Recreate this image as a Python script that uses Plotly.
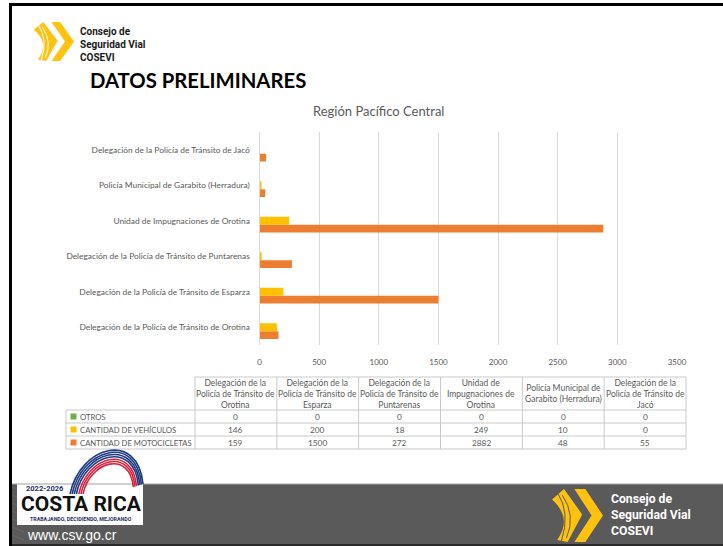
import numpy as np
import plotly.graph_objects as go

W, H = 723, 546

# ---- data -------------------------------------------------------------
categorias = [
    "Delegación de la Policía de Tránsito de Orotina",
    "Delegación de la Policía de Tránsito de Esparza",
    "Delegación de la Policía de Tránsito de Puntarenas",
    "Unidad de Impugnaciones de Orotina",
    "Policía Municipal de Garabito (Herradura)",
    "Delegación de la Policía de Tránsito de Jacó",
]
encabezados = [
    "Delegación de la<br>Policía de Tránsito de<br>Orotina",
    "Delegación de la<br>Policía de Tránsito de<br>Esparza",
    "Delegación de la<br>Policía de Tránsito de<br>Puntarenas",
    "Unidad de<br>Impugnaciones de<br>Orotina",
    "Policía Municipal de<br>Garabito (Herradura)",
    "Delegación de la<br>Policía de Tránsito de<br>Jacó",
]
otros = [0, 0, 0, 0, 0, 0]
vehiculos = [146, 200, 18, 249, 10, 0]
motocicletas = [159, 1500, 272, 2882, 48, 55]
series_nombres = ["OTROS", "CANTIDAD DE VEHÍCULOS", "CANTIDAD DE MOTOCICLETAS"]
series_valores = [otros, vehiculos, motocicletas]
series_colores = ["#70AD47", "#FFC000", "#ED7D31"]
ticks_x = [0, 500, 1000, 1500, 2000, 2500, 3000, 3500]

GRIS = "#595959"
FUENTE = "Lato"


def fx(x):
    return x / W


def fy(y):
    return 1 - y / H


shapes = []
annotations = []


def linea(x0, y0, x1, y1, color="#c9c9c9", ancho=1):
    shapes.append(dict(type="line", xref="paper", yref="paper",
                       x0=fx(x0), y0=fy(y0), x1=fx(x1), y1=fy(y1),
                       line=dict(color=color, width=ancho), layer="above"))


def rect(x0, y0, x1, y1, color, layer="above"):
    shapes.append(dict(type="rect", xref="paper", yref="paper",
                       x0=fx(x0), y0=fy(y0), x1=fx(x1), y1=fy(y1),
                       fillcolor=color, line=dict(width=0), layer=layer))


def texto(x, y, t, size, color=GRIS, family=FUENTE, xanchor="center",
          bold=False, yanchor="middle", align="center"):
    if bold:
        t = "<b>" + t + "</b>"
    annotations.append(dict(xref="paper", yref="paper", x=fx(x), y=fy(y),
                            text=t, showarrow=False, xanchor=xanchor,
                            yanchor=yanchor, align=align,
                            font=dict(size=size, color=color, family=family)))


def ruta(puntos, cerrar=True):
    # puntos: list of ("M"/"L"/"Q"/"C", [(x, y), ...]) in pixels
    partes = []
    for cmd, pts in puntos:
        partes.append(cmd + " " + " ".join(f"{fx(px):.5f},{fy(py):.5f}" for px, py in pts))
    s = " ".join(partes)
    return s + (" Z" if cerrar else "")


def logo_cosevi(x0, y0, w, h, franja="#ffffff"):
    def t(u, v):
        return (x0 + u * w, y0 + v * h)
    amarillo = "#FFC20E"
    izq = ruta([("M", [t(0.02, 0.20)]), ("L", [t(0.25, 0.0)]), ("L", [t(0.60, 0.48)]),
                ("L", [t(0.32, 1.0)]), ("L", [t(0.12, 0.96)]),
                ("Q", [t(0.42, 0.55), t(0.02, 0.20)])])
    der = ruta([("M", [t(0.45, 0.0)]), ("L", [t(0.66, 0.0)]), ("L", [t(1.0, 0.5)]),
                ("L", [t(0.66, 1.0)]), ("L", [t(0.45, 1.0)]), ("L", [t(0.78, 0.5)])])
    for p in (izq, der):
        shapes.append(dict(type="path", xref="paper", yref="paper", path=p,
                           fillcolor=amarillo, line=dict(width=0), layer="above"))
    for a, b, c in [((0.12, 0.06), (0.38, 0.45), (0.20, 0.98)),
                    ((0.22, 0.12), (0.48, 0.50), (0.30, 0.92))]:
        p = ruta([("M", [t(*a)]), ("Q", [t(*b), t(*c)])], cerrar=False)
        shapes.append(dict(type="path", xref="paper", yref="paper", path=p,
                           line=dict(color=franja, width=1), layer="above"))


# ---- slide frame ------------------------------------------------------
linea(10, 4.5, 723, 4.5, color="#000000", ancho=3)

# top-left brand
logo_cosevi(33, 22, 41, 39)
texto(78, 44, "Consejo de<br>Seguridad Vial<br>COSEVI", 10, color="#1a1a1a",
      family="Roboto", xanchor="left", bold=True, align="left")
texto(88, 80, "DATOS PRELIMINARES", 20.3, color="#000000", xanchor="left", bold=True)

# chart title
texto(378, 111, "Región Pacífico Central", 13)

# ---- data table below the chart --------------------------------------
col_x = [195 + i * (686 - 195) / 6 for i in range(7)]
fila_y = [410, 423, 436, 449]
linea(col_x[0], 377, col_x[-1], 377)
for y in fila_y:
    linea(66, y, col_x[-1], y)
for x in col_x:
    linea(x, 377, x, fila_y[-1])
linea(66, fila_y[0], 66, fila_y[-1])

for i, enc in enumerate(encabezados):
    cx = (col_x[i] + col_x[i + 1]) / 2
    texto(cx, 393.5, enc, 8.5)

for r, (nombre, vals, color) in enumerate(zip(series_nombres, series_valores, series_colores)):
    cy = (fila_y[r] + fila_y[r + 1]) / 2
    rect(70.5, cy - 3, 76.5, cy + 3, color)
    texto(78, cy, nombre, 7.7, xanchor="left")
    for i, v in enumerate(vals):
        cx = (col_x[i] + col_x[i + 1]) / 2
        texto(cx, cy, f"{v}", 8.3)

# ---- bottom banner -----------------------------------------------------
rect(10, 484, 723, 546, "#5a5a5a", layer="below")
# zigzag texture
for fila in range(8):
    yb = 487 + fila * 8
    pts = []
    for k in range(0, 60):
        xb = 12 + k * 12
        pts.append((xb, yb + (0 if k % 2 == 0 else 5)))
    shapes.append(dict(type="path", xref="paper", yref="paper",
                       path=ruta([("M", [pts[0]]), ("L", pts[1:])], cerrar=False),
                       line=dict(color="#636363", width=1.5), layer="below"))
linea(10, 484, 723, 484, color="#a0a0a0", ancho=1)
linea(10, 545, 723, 545, color="#2a2a2a", ancho=2)
linea(10.5, 3, 10.5, 546, color="#000000", ancho=3)

# Costa Rica emblem
rect(17, 484, 143, 525, "#ffffff", layer="below")
centro = (112, 494)
arcos = [(1.00, "#1f3b82"), (0.95, "#1f3b82"), (0.90, "#1f3b82"), (0.85, "#1f3b82"),
         (0.79, "#d7263d"), (0.74, "#d7263d"), (0.69, "#d7263d")]
base = [(70, 494), (80, 446), (138, 430), (143, 484)]
for esc, col in arcos:
    pts = [(centro[0] + (px - centro[0]) * esc, centro[1] + (py - centro[1]) * esc)
           for px, py in base]
    shapes.append(dict(type="path", xref="paper", yref="paper",
                       path=ruta([("M", [pts[0]]), ("C", pts[1:])], cerrar=False),
                       line=dict(color=col, width=1.6), layer="above"))
rect(17, 494, 143, 525, "#ffffff")
texto(24, 488.5, "2022-2026", 7.5, color="#1f2f6b", family="Roboto", xanchor="left", bold=True)
texto(81, 504, "COSTA RICA", 21, color="#111111", family="Roboto", bold=True)
texto(81, 518.5, "TRABAJANDO, DECIDIENDO, MEJORANDO", 5.3, color="#1f2f6b", family="Roboto", bold=True)
texto(25, 535, "www.csv.go.cr", 14, color="#ffffff", family="Liberation Sans", xanchor="left")

# COSEVI brand on the banner
logo_cosevi(551, 489, 52, 53, franja="#5a5a5a")
texto(609, 515, "Consejo de<br>Seguridad Vial<br>COSEVI", 12.2, color="#ffffff",
      family="Roboto", xanchor="left", bold=True, align="left")

# ---- bars ---------------------------------------------------------------
fig = go.Figure()
for nombre, vals, color in reversed(list(zip(series_nombres, series_valores, series_colores))):
    fig.add_trace(go.Bar(y=categorias, x=vals, name=nombre, orientation="h",
                         marker=dict(color=color, line=dict(width=0)),
                         showlegend=False))

fig.update_layout(
    width=W, height=H,
    autosize=False,
    margin=dict(l=0, r=0, t=0, b=0, pad=0),
    paper_bgcolor="#ffffff", plot_bgcolor="#ffffff",
    barmode="group", bargap=0.34, bargroupgap=0,
    font=dict(family=FUENTE, color=GRIS),
    xaxis=dict(domain=[fx(259.5), fx(677)], range=[0, 3500], tickvals=ticks_x,
               showgrid=True, gridcolor="#d9d9d9", gridwidth=1, zeroline=False,
               showline=False, ticks="", tickfont=dict(size=8, color=GRIS),
               ticklabelstandoff=11, automargin=False, fixedrange=True),
    yaxis=dict(domain=[fy(345), fy(132)], categoryorder="array",
               categoryarray=categorias, showgrid=False, zeroline=False,
               showline=True, linecolor="#d9d9d9", linewidth=1, ticks="",
               tickfont=dict(size=8.4, color=GRIS), ticklabelstandoff=7,
               automargin=False, fixedrange=True),
    shapes=shapes,
    annotations=annotations,
)

fig.write_html("out.html", config={"displayModeBar": False})
